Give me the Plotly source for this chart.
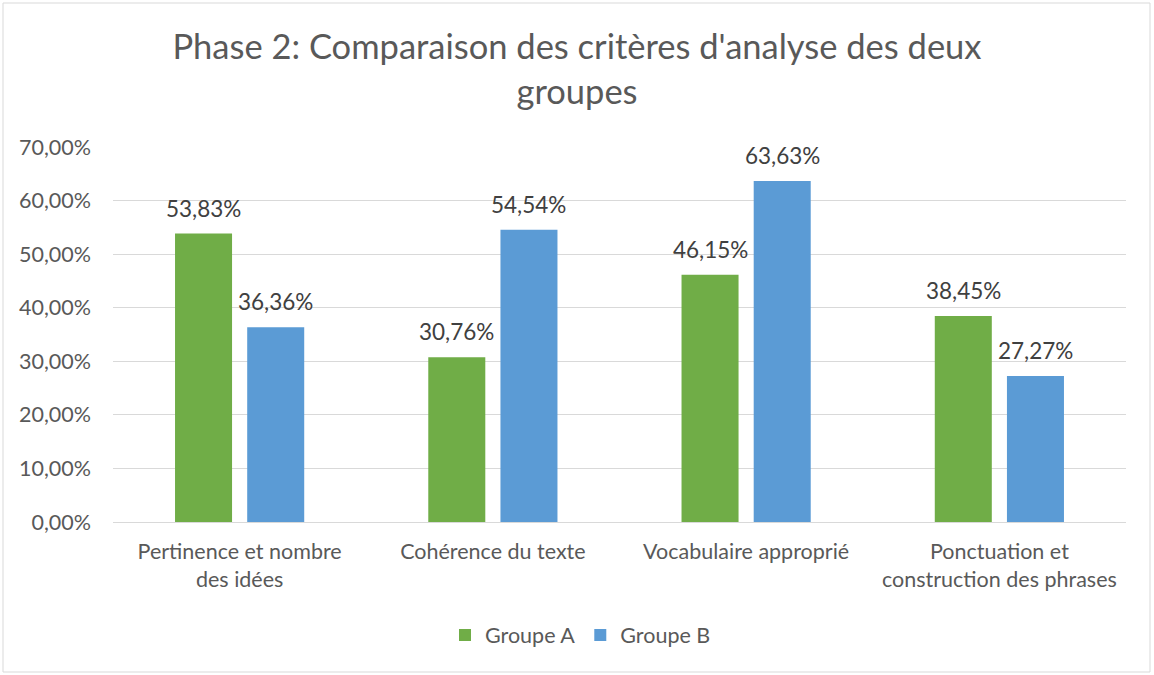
import plotly.graph_objects as go

categories = ["Pertinence et nombre<br>des idées", "Cohérence du texte", "Vocabulaire approprié",
              "Ponctuation et<br>construction des phrases"]
groupe_a = [0.5383, 0.3076, 0.4615, 0.3845]
groupe_b = [0.3636, 0.5454, 0.6363, 0.2727]
series_names = ["Groupe A", "Groupe B"]
colors = ["#70AD47", "#5B9BD5"]

FONT = "Lato, 'Open Sans', sans-serif"
W, H = 1154, 675
ml, mr, mt, mb = 113, 28, 147, 153
BG = 0.43
pw = W - ml - mr
ph = H - mt - mb
cat_px = pw / len(categories)
off_px = cat_px * (1 - BG) / 4

fig = go.Figure()
for name, vals, col in zip(series_names, [groupe_a, groupe_b], colors):
    fig.add_trace(go.Bar(
        x=categories, y=vals, name=name, marker=dict(color=col, line=dict(width=0)),
    ))

# data labels
for vals, sgn in zip([groupe_a, groupe_b], [-1, 1]):
    for c, v in zip(categories, vals):
        fig.add_annotation(x=c, y=v, xref="x", yref="y", text=f"{v*100:.2f}%".replace(".", ","),
                           showarrow=False, xshift=sgn * off_px, yanchor="bottom", yshift=10,
                           font=dict(size=22.5, color="#404040", family=FONT))

fig.update_layout(
    width=W, height=H,
    margin=dict(l=ml, r=mr, t=mt, b=mb),
    paper_bgcolor="white", plot_bgcolor="white",
    separators=",.",
    barmode="group", bargap=BG, bargroupgap=0.21,
    font=dict(family=FONT, color="#595959"),
    title=dict(text="Phase 2: Comparaison des critères d'analyse des deux<br>groupes",
               x=0.5, xanchor="center", y=1 - 59 / H, yanchor="top",
               font=dict(size=34.5, color="#595959", family=FONT)),
    yaxis=dict(range=[0, 0.7], dtick=0.1, tickformat=".2%", showgrid=True,
               gridcolor="#D9D9D9", gridwidth=1, zeroline=False, showline=False,
               tickfont=dict(size=21.5, color="#595959"), ticks="", ticklen=0,
               ticklabelstandoff=21, automargin=False),
    xaxis=dict(showline=True, linecolor="#D9D9D9", linewidth=1, ticks="",
               tickfont=dict(size=21.5, color="#595959"), ticklabelstandoff=10,
               automargin=False),
    legend=dict(orientation="h", x=(445 - ml) / pw, xanchor="left", y=-113 / ph, yanchor="middle",
                font=dict(size=21.5, color="#595959"), itemwidth=30, traceorder="normal"),
    showlegend=True,
)
fig.add_shape(type="rect", xref="paper", yref="paper",
              x0=(3 - ml) / pw, x1=(1150 - ml) / pw,
              y0=(H - mb - 672) / ph, y1=(H - mb - 3) / ph,
              line=dict(color="#D9D9D9", width=1), fillcolor="rgba(0,0,0,0)", layer="below")
fig.write_html("out.html", post_script="document.body.style.margin='0';",
               config={"displayModeBar": False})
